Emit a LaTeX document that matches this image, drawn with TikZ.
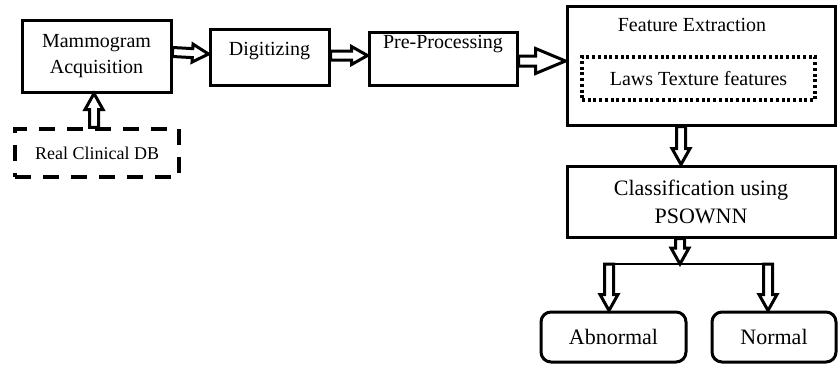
\documentclass[tikz,border=0pt]{standalone}
\usepackage{fontspec}
\setmainfont{Liberation Serif}
\usetikzlibrary{calc,backgrounds}

% hollow block-arrow geometry (half shaft width, half head width, head length)
\def\basw{4.5pt}
\def\bahw{9pt}
\def\bahl{16pt}

\tikzset{
  box/.style={draw, line width=3pt, inner sep=0pt, align=center},
  dashbox/.style={box, line width=3.5pt, dash pattern=on 16pt off 12pt},
  dotbox/.style={box, line width=3.5pt, dash pattern=on 3pt off 2.7pt},
  roundbox/.style={box, rounded corners=10pt},
  txt/.style={inner sep=0pt, align=center},
  bigtip/.code={\def\basw{5pt}\def\bahw{12.5pt}\def\bahl{30pt}},
  hollow/.style={draw, line width=3pt, fill=white, line join=miter,
    to path={
      ($(\tikztotarget)!\bahl!(\tikztostart)$) coordinate (ba-m)
      ($(\tikztostart)!\basw!90:(\tikztotarget)$)
        -- ($(ba-m)!\basw!90:(\tikztotarget)$)
        -- ($(ba-m)!\bahw!90:(\tikztotarget)$)
        -- (\tikztotarget)
        -- ($(ba-m)!\bahw!-90:(\tikztotarget)$)
        -- ($(ba-m)!\basw!-90:(\tikztotarget)$)
        -- ($(\tikztostart)!\basw!-90:(\tikztotarget)$)
        -- cycle}},
  branch/.style={line width=2.8pt}
}

\begin{document}
\begin{tikzpicture}[x=1pt, y=-1pt, font=\rmfamily\fontsize{20}{26}\selectfont]
\useasboundingbox (0,0) rectangle (838,367);

% process boxes
\node[box, minimum width=149pt, minimum height=72pt] (mam) at (96.5,56)
  {Mammogram\\Acquisition};
\node[dashbox, minimum width=164pt, minimum height=48pt, font=\rmfamily\fontsize{18}{22}\selectfont]
  (db) at (97,153) {Real Clinical DB};
\node[box, minimum width=119pt, minimum height=56pt] (dig) at (269.5,57) {};
\node[txt] (digt) at (269.5,51) {Digitizing};
\node[box, minimum width=148pt, minimum height=53pt] (pre) at (443,58.5) {};
\node[txt] (pret) at (443,44) {Pre-Processing};
\node[box, minimum width=268pt, minimum height=119pt] (feat) at (701,65.5) {};
\node[txt] (featt) at (692,25) {Feature Extraction};
\node[dotbox, minimum width=233pt, minimum height=43pt] (laws) at (698.5,78.5)
  {Laws Texture features};
\node[box, minimum width=268pt, minimum height=71pt, font=\rmfamily\fontsize{22}{28}\selectfont]
  (cls) at (701,201.5) {Classification using\\PSOWNN};
\node[roundbox, minimum width=145pt, minimum height=50pt, font=\rmfamily\fontsize{22}{26}\selectfont]
  (abn) at (613.5,337) {Abnormal};
\node[roundbox, minimum width=124pt, minimum height=50pt, font=\rmfamily\fontsize{22}{26}\selectfont]
  (nor) at (774,337) {Normal};

% branching point below the classifier
\coordinate (j) at (680,264);
\coordinate (jl) at (609,264);
\coordinate (jr) at (768,264);

\begin{scope}[on background layer]
  \path[hollow] ([yshift=4pt]mam.east) to ([yshift=3pt]dig.west);
  \path[hollow] ([yshift=1.5pt]dig.east) to ([yshift=1.5pt]pre.west |- dig.east);
  \path[hollow, bigtip] ([yshift=-2.5pt]pre.east) to ([yshift=-2.5pt]pre.east -| feat.west);
  \path[hollow] (db.north -| 94,0) to (mam.south -| 94,0);
  \path[hollow] (feat.south -| 681,0) to (cls.north -| 681,0);
  \path[hollow] (cls.south -| j) to (j);
  \path[hollow] (jl) to (jl |- abn.north);
  \path[hollow] (jr) to (jr |- nor.north);
\end{scope}
\draw[branch] ([xshift=-5pt]jl) -- ([xshift=5pt]jr);
\end{tikzpicture}
\end{document}
